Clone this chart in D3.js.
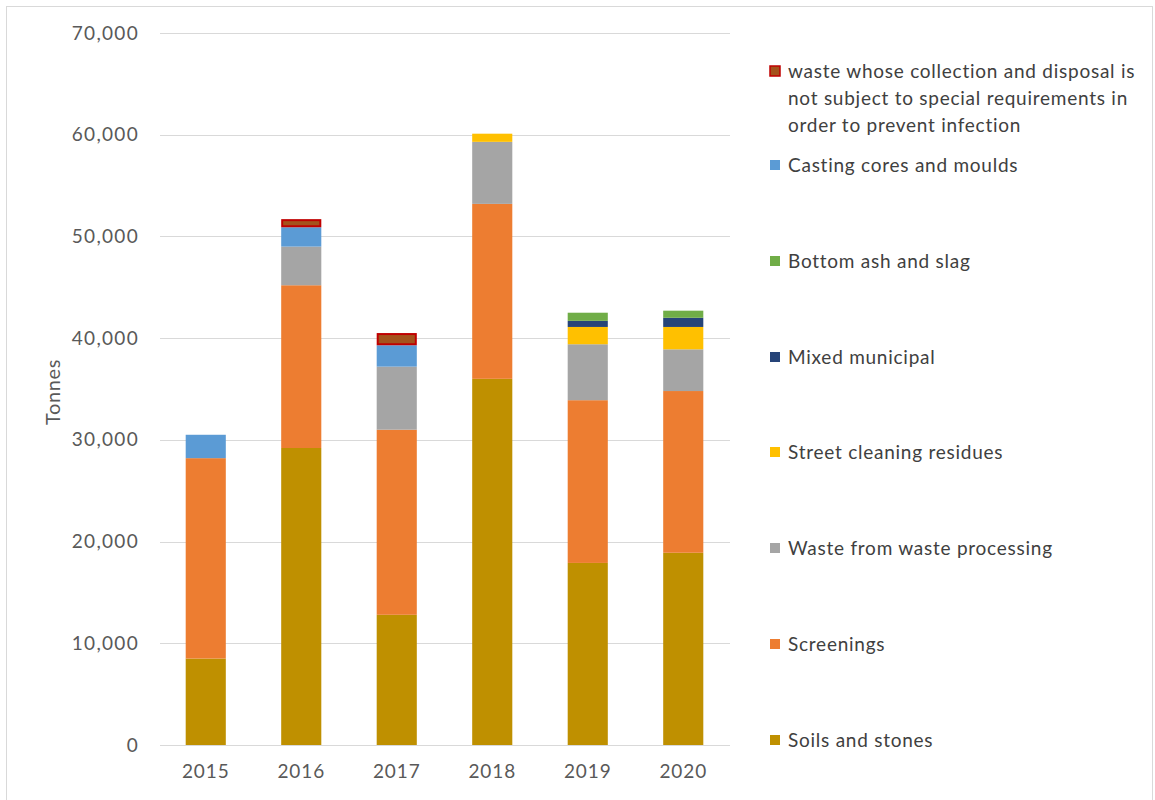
<!DOCTYPE html>
<html>
<head>
<meta charset="utf-8">
<script src="https://cdn.jsdelivr.net/npm/d3@7"></script>
<style>
  html, body { margin: 0; padding: 0; background: #fff; }
  svg { display: block; }
  text { font-family: Lato, "Open Sans", sans-serif; }
</style>
</head>
<body>
<svg id="chart" width="1155" height="800"></svg>
<script>
// ---- data ----
const years = ["2015", "2016", "2017", "2018", "2019", "2020"];
const seriesNames = [
  "Soils and stones",
  "Screenings",
  "Waste from waste processing",
  "Street cleaning residues",
  "Mixed municipal",
  "Bottom ash and slag",
  "Casting cores and moulds",
  "waste whose collection and disposal is not subject to special requirements in order to prevent infection"
];
const soils            = [8500, 29200, 12800, 36000, 17900, 18900];
const screenings       = [19700, 16000, 18200, 17200, 16000, 15900];
const wasteProcessing  = [0, 3800, 6200, 6100, 5500, 4100];
const streetCleaning   = [0, 0, 0, 800, 1700, 2200];
const mixedMunicipal   = [0, 0, 0, 0, 600, 900];
const bottomAsh        = [0, 0, 0, 0, 800, 700];
const castingCores     = [2300, 1900, 2100, 0, 0, 0];
const infectionWaste   = [0, 800, 1200, 0, 0, 0];
const yTicks = [0, 10000, 20000, 30000, 40000, 50000, 60000, 70000];
const legendLines = [
  ["waste whose collection and disposal is", "not subject to special requirements in", "order to prevent infection"],
  ["Casting cores and moulds"],
  ["Bottom ash and slag"],
  ["Mixed municipal"],
  ["Street cleaning residues"],
  ["Waste from waste processing"],
  ["Screenings"],
  ["Soils and stones"]
];

const seriesValues = [soils, screenings, wasteProcessing, streetCleaning, mixedMunicipal, bottomAsh, castingCores, infectionWaste];
const colors = ["#BF9000", "#ED7D31", "#A5A5A5", "#FFC000", "#264478", "#70AD47", "#5B9BD5", "#A4521C"];
const strokes = [null, null, null, null, null, null, null, "#C00000"];

const rows = years.map((y, i) => {
  const r = { year: y };
  seriesNames.forEach((s, k) => r[s] = seriesValues[k][i]);
  return r;
});
const stacked = d3.stack().keys(seriesNames)(rows);

const svg = d3.select("#chart");

// frame
svg.append("rect").attr("x", 6.5).attr("y", 6.5).attr("width", 1146).attr("height", 800)
  .attr("fill", "none").attr("stroke", "#d9d9d9").attr("stroke-width", 1);

const x = d3.scaleBand().domain(years).range([158, 731]).paddingInner(0.58).paddingOuter(0.29);
const y = d3.scaleLinear().domain([0, 70000]).range([745, 33]);

// gridlines
svg.append("g").selectAll("line").data(yTicks).join("line")
  .attr("x1", 160).attr("x2", 730)
  .attr("y1", d => Math.round(y(d)) + 0.5).attr("y2", d => Math.round(y(d)) + 0.5)
  .attr("stroke", "#d9d9d9").attr("stroke-width", 1);

// y axis labels
const yAxis = d3.axisLeft(y).tickValues(yTicks).tickFormat(d3.format(",")).tickSize(0).tickPadding(0);
const gy = svg.append("g").attr("transform", "translate(139,0)").call(yAxis);
gy.select(".domain").remove();
gy.selectAll("text").attr("fill", "#595959").style("font-size", "19px")
  .style("letter-spacing", "1.3px").style("font-family", "Lato, sans-serif");

// x axis labels
const xAxis = d3.axisBottom(x).tickSize(0).tickPadding(0);
const gx = svg.append("g").attr("transform", "translate(0,764)").call(xAxis);
gx.select(".domain").remove();
gx.selectAll("text").attr("fill", "#595959").style("font-size", "19px")
  .style("letter-spacing", "0.9px").style("font-family", "Lato, sans-serif");

// y title
svg.append("text").attr("transform", "translate(60,392) rotate(-90)")
  .attr("text-anchor", "middle").attr("fill", "#595959").style("font-size", "20px")
  .style("letter-spacing", "0.6px").text("Tonnes");

// bars
svg.append("g").selectAll("g").data(stacked).join("g")
  .attr("fill", (d, i) => colors[i])
  .each(function(layer, i) {
    d3.select(this).selectAll("rect").data(layer.filter(d => d[1] - d[0] > 0)).join("rect")
      .attr("x", d => x(d.data.year) + (strokes[i] ? 1 : 0))
      .attr("width", x.bandwidth() - (strokes[i] ? 2 : 0))
      .attr("y", d => y(d[1]) + (strokes[i] ? 1 : 0))
      .attr("height", d => y(d[0]) - y(d[1]) - (strokes[i] ? 2 : 0))
      .attr("stroke", strokes[i] || "none")
      .attr("stroke-width", strokes[i] ? 2 : 0);
  });

// legend
const legendY = [71, 165, 261, 357, 452, 548, 644, 740];
const legendIdx = [7, 6, 5, 4, 3, 2, 1, 0];
const lg = svg.append("g");
legendLines.forEach((lines, j) => {
  const k = legendIdx[j];
  const cy = legendY[j];
  lg.append("rect").attr("x", 770).attr("y", cy - 5).attr("width", 10).attr("height", 10)
    .attr("fill", colors[k]).attr("stroke", strokes[k] || "none").attr("stroke-width", strokes[k] ? 1.5 : 0);
  lines.forEach((ln, m) => {
    lg.append("text").attr("x", 788).attr("y", cy + m * 27).attr("dy", "0.35em")
      .attr("fill", "#404040").style("font-size", "19px").style("letter-spacing", "0.75px").text(ln);
  });
});
</script>
</body>
</html>
